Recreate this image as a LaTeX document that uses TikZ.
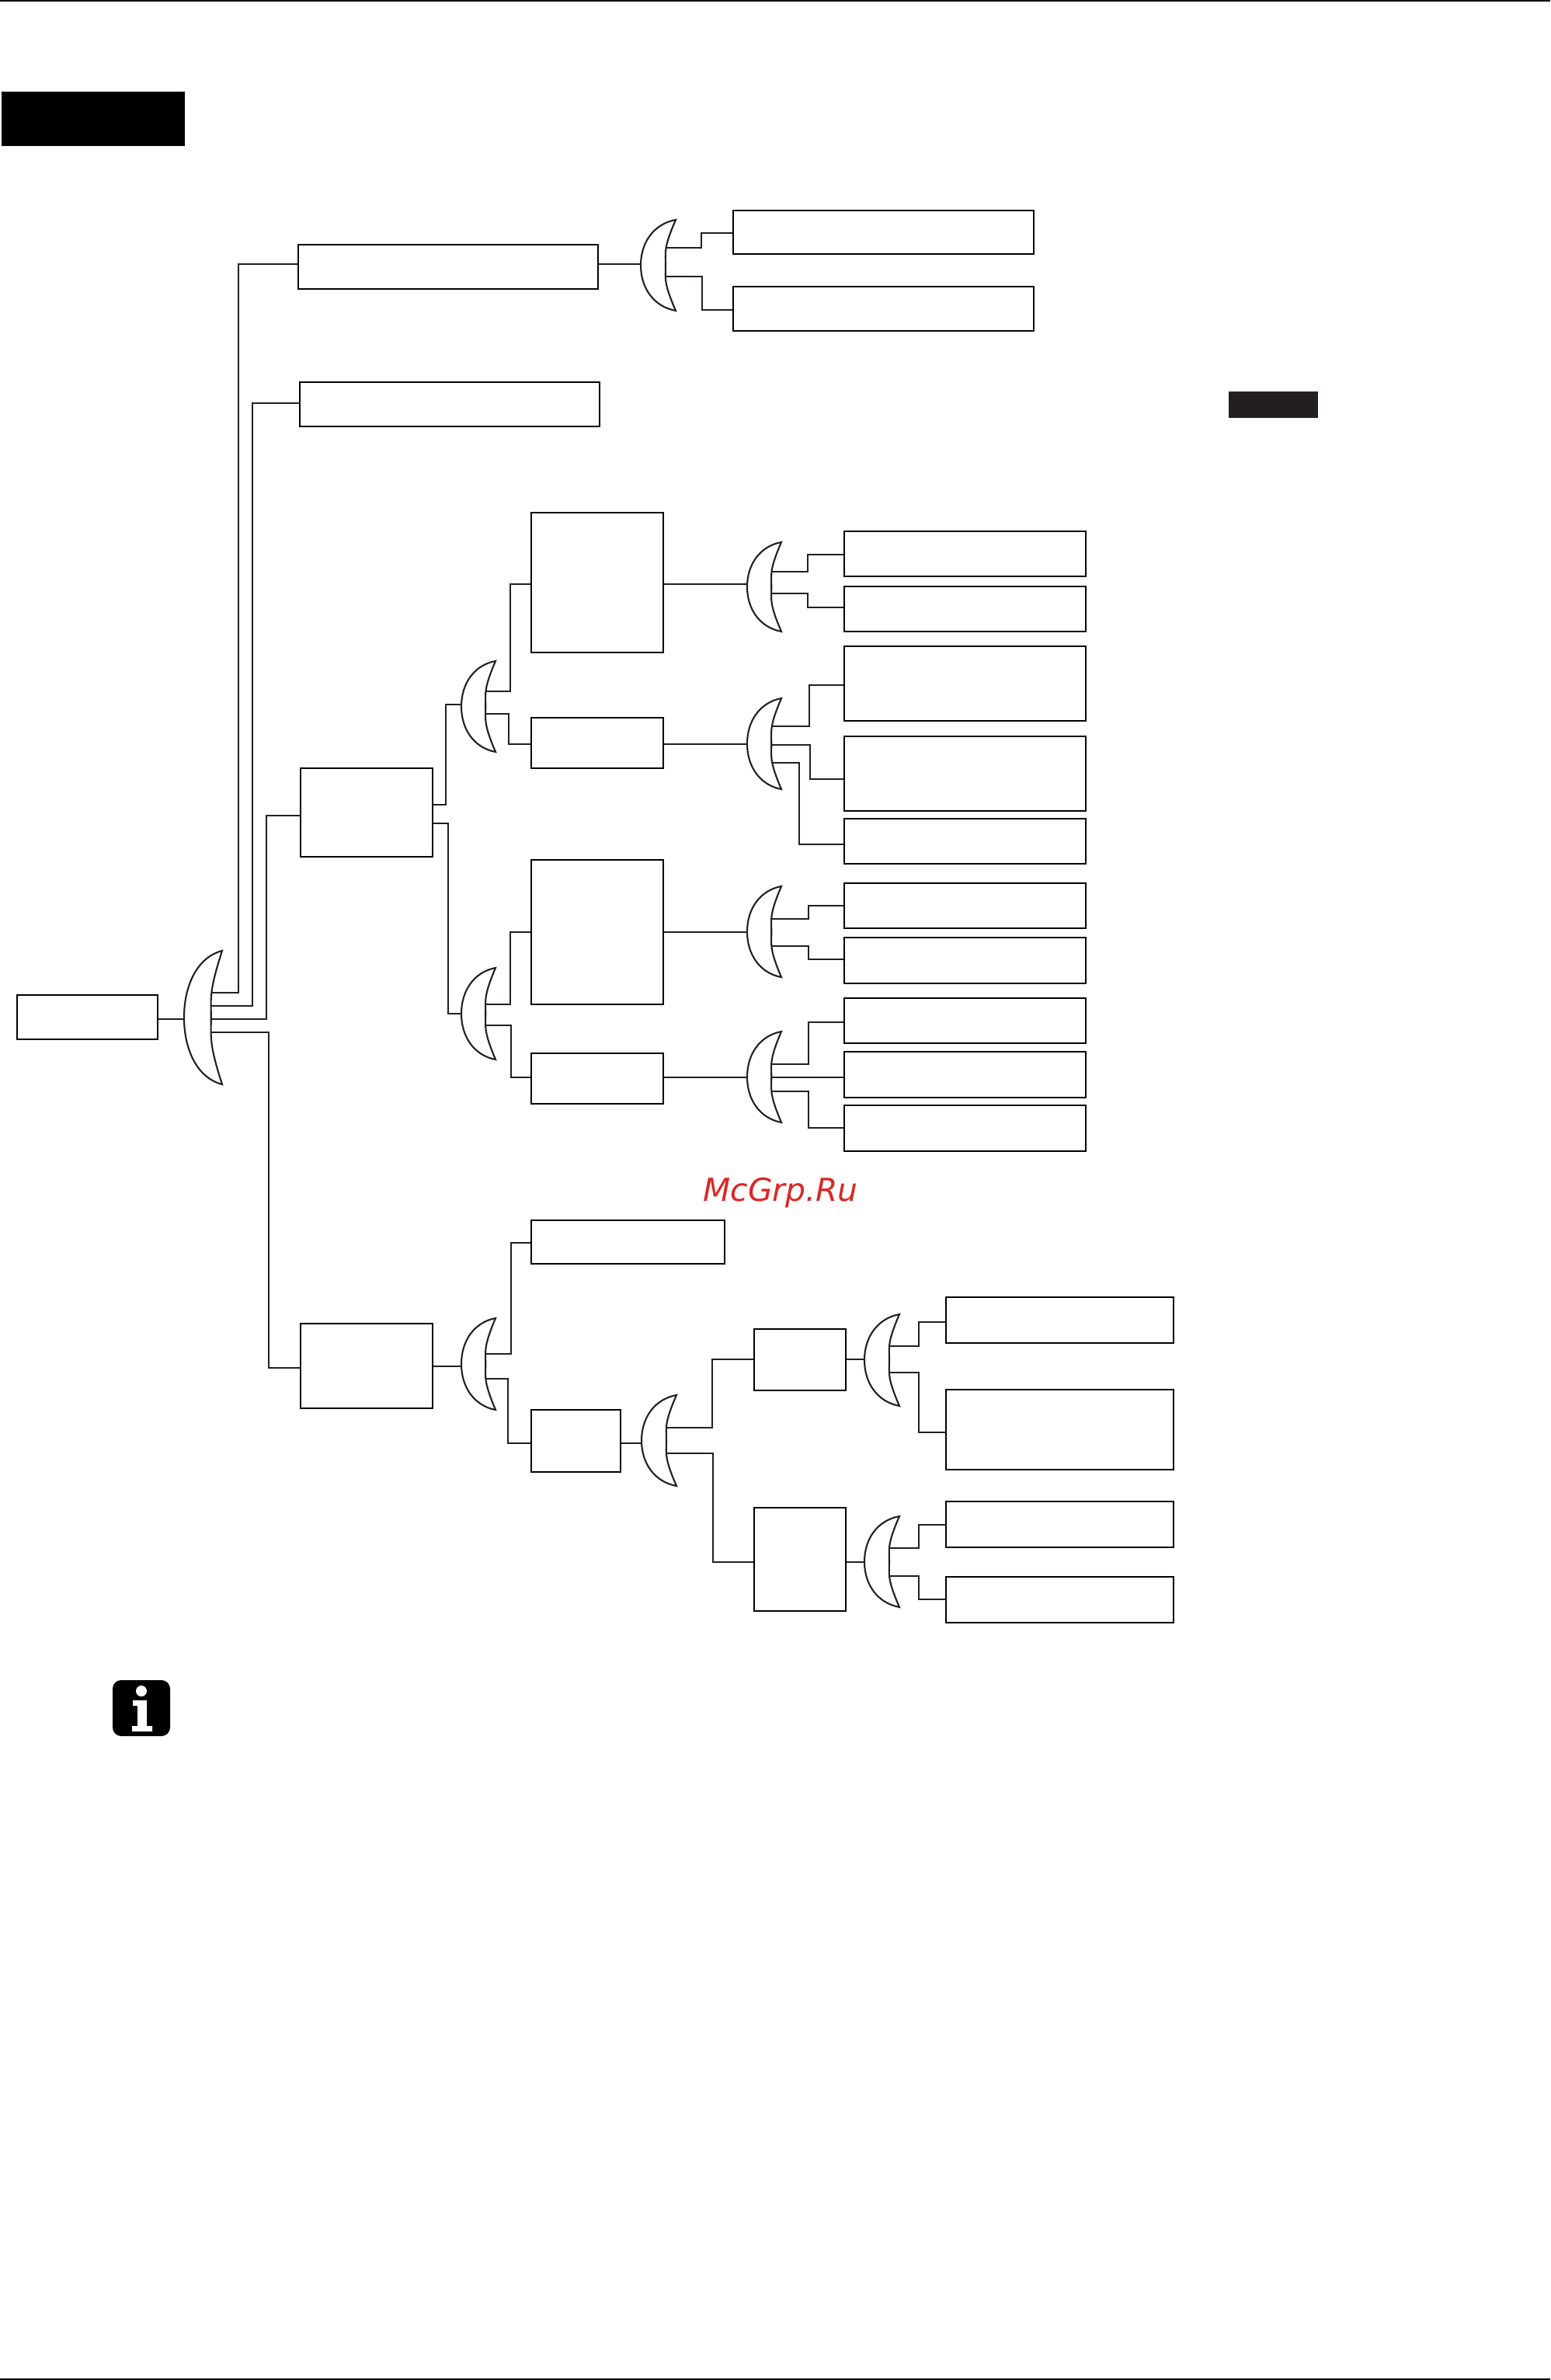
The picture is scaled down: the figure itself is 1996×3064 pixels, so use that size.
\documentclass[tikz,border=0pt]{standalone}
\usepackage{fontspec}
\setmainfont{DejaVu Sans}
\usetikzlibrary{backgrounds}
\definecolor{ink}{HTML}{231F20}
\definecolor{wm}{HTML}{DC2626}
\tikzset{
  wirestyle/.style={draw=ink,line width=0.65pt,line join=miter},
  boxstyle/.style={draw=black,line width=0.7pt,fill=white,inner sep=0pt,outer sep=0pt,rectangle},
  lensstyle/.style={draw=ink,line width=0.6pt,fill=white,line join=miter},
}
% \bx{name}{x1}{y1}{x2}{y2}
\newcommand{\bx}[5]{\node[boxstyle,minimum width={(#4-#2)*0.01cm},minimum height={(#5-#3)*0.01cm}] (#1) at ({(#2+#4)/2},{(#3+#5)/2}) {};}
% \lens{name}{left}{tip}{ytop}{ybot}
\newcommand{\lens}[5]{%
  \pgfmathsetmacro{\lw}{#3-#2}\pgfmathsetmacro{\lm}{(#4+#5)/2}\pgfmathsetmacro{\lh}{(#5-#4)/2}%
  \pgfmathsetmacro{\li}{#2+0.71*\lw}%
  \coordinate (#1) at (#2,\lm);\coordinate (#1-i) at (\li,\lm);%
  \draw[lensstyle] (#3,#4)
    .. controls ({#3-0.63*\lw},{#4+0.09*\lh}) and (#2,{\lm-0.5*\lh}) .. (#2,\lm)
    .. controls (#2,{\lm+0.5*\lh}) and ({#3-0.63*\lw},{#5-0.09*\lh}) .. (#3,#5)
    .. controls ({#3-0.5*\lw*0.7},{#5-0.62*\lh}) and (\li,{\lm+0.3*\lh}) .. (\li,\lm)
    .. controls (\li,{\lm-0.3*\lh}) and ({#3-0.5*\lw*0.7},{#4+0.62*\lh}) .. (#3,#4) -- cycle;}
% \inl{box}{lens}{y}
\newcommand{\inl}[3]{\begin{pgfonlayer}{background}\draw[wirestyle] (#1.east |- 0,#3) -- (#2 |- 0,#3);\end{pgfonlayer}}
% \wire{lens}{sy}{mx}{ey}{box}
\newcommand{\wire}[5]{\begin{pgfonlayer}{background}\draw[wirestyle] (#1-i |- 0,#2) -- (#3,#2) -- (#3,#4) -- (#5.west |- 0,#4);\end{pgfonlayer}}
\begin{document}
\begin{tikzpicture}[x=0.01cm,y=-0.01cm]
\useasboundingbox (0,0) rectangle (1996,3064);
% page rules and blocks
\fill[black] (0,0) rectangle (1996,2);
\fill[black] (0,3062) rectangle (1996,3064);
\fill[black] (2,118) rectangle (238,188);
\fill[ink] (1582,504) rectangle (1697,538);
% boxes
\bx{root}{22}{1281}{203}{1338}
\bx{A}{384}{315}{770}{372}
\bx{Aa}{944}{271}{1331}{327}
\bx{Ab}{944}{369}{1331}{426}
\bx{B}{386}{492}{772}{549}
\bx{C}{387}{989}{557}{1103}
\bx{D}{387}{1704}{557}{1813}
\bx{E}{684}{660}{854}{840}
\bx{F}{684}{924}{854}{989}
\bx{G}{684}{1107}{854}{1293}
\bx{H}{684}{1356}{854}{1421}
\bx{Ea}{1087}{684}{1398}{742}
\bx{Eb}{1087}{755}{1398}{813}
\bx{Fa}{1087}{832}{1398}{928}
\bx{Fb}{1087}{948}{1398}{1044}
\bx{Fc}{1087}{1054}{1398}{1112}
\bx{Ga}{1087}{1137}{1398}{1195}
\bx{Gb}{1087}{1207}{1398}{1266}
\bx{Ha}{1087}{1285}{1398}{1343}
\bx{Hb}{1087}{1354}{1398}{1413}
\bx{Hc}{1087}{1423}{1398}{1482}
\bx{Da}{684}{1571}{933}{1627}
\bx{Db}{684}{1815}{799}{1895}
\bx{K}{971}{1711}{1089}{1790}
\bx{L}{971}{1941}{1089}{2074}
\bx{Ka}{1218}{1670}{1511}{1729}
\bx{Kb}{1218}{1789}{1511}{1892}
\bx{La}{1218}{1933}{1511}{1992}
\bx{Lb}{1218}{2030}{1511}{2089}
% lenses
\lens{lr}{237}{286}{1224}{1396}
\lens{la}{825}{870}{283}{400}
\lens{lc}{594}{638}{851}{968}
\lens{ld}{594}{638}{1246}{1364}
\lens{le}{962}{1006}{698}{813}
\lens{lf}{962}{1006}{899}{1016}
\lens{lg}{962}{1006}{1141}{1258}
\lens{lh}{962}{1006}{1328}{1445}
\lens{li}{594}{638}{1697}{1815}
\lens{lj}{826}{871}{1796}{1913}
\lens{lk}{1113}{1158}{1692}{1810}
\lens{ll}{1113}{1158}{1952}{2069}
% connectors
\inl{root}{lr}{1312}
\wire{lr}{1278}{307}{340}{A}
\wire{lr}{1295}{325}{519}{B}
\wire{lr}{1312}{343}{1050}{C}
\wire{lr}{1329}{346}{1761}{D}
\inl{A}{la}{340}
\wire{la}{319}{903}{300}{Aa}
\wire{la}{356}{904}{399}{Ab}
\begin{pgfonlayer}{background}
\draw[wirestyle] (C.east |- 0,1036) -- (574,1036) -- (574,907) -- (lc |- 0,907);
\draw[wirestyle] (C.east |- 0,1060) -- (577,1060) -- (577,1305) -- (ld |- 0,1305);
\end{pgfonlayer}
\wire{lc}{890}{657}{752}{E}
\wire{lc}{919}{655}{958}{F}
\wire{ld}{1293}{657}{1200}{G}
\wire{ld}{1320}{658}{1387}{H}
\inl{E}{le}{752}
\wire{le}{736}{1040}{714}{Ea}
\wire{le}{764}{1040}{782}{Eb}
\inl{F}{lf}{958}
\wire{lf}{935}{1042}{882}{Fa}
\wire{lf}{959}{1043}{1003}{Fb}
\wire{lf}{982}{1029}{1087}{Fc}
\inl{G}{lg}{1200}
\wire{lg}{1183}{1041}{1166}{Ga}
\wire{lg}{1218}{1041}{1235}{Gb}
\inl{H}{lh}{1387}
\wire{lh}{1370}{1041}{1316}{Ha}
\wire{lh}{1387}{1041}{1387}{Hb}
\wire{lh}{1405}{1041}{1452}{Hc}
\inl{D}{li}{1759}
\wire{li}{1743}{658}{1600}{Da}
\wire{li}{1775}{654}{1858}{Db}
\inl{Db}{lj}{1858}
\wire{lj}{1838}{917}{1750}{K}
\wire{lj}{1871}{918}{2011}{L}
\inl{K}{lk}{1750}
\wire{lk}{1733}{1183}{1702}{Ka}
\wire{lk}{1767}{1183}{1844}{Kb}
\inl{L}{ll}{2011}
\wire{ll}{1993}{1183}{1963}{La}
\wire{ll}{2029}{1183}{2059}{Lb}
% watermark
\node[anchor=base west,inner sep=0pt,text=wm,font={\itshape\fontsize{11.6pt}{13pt}\selectfont}] (wmark) at (905,1546) {McGrp.Ru};
% info icon
\fill[black,rounded corners=0.11cm] (145,2163) rectangle (219,2235);
\fill[white] (182,2177) circle (7);
\fill[white] (171,2189) -- (189,2189) -- (189,2222) -- (196,2222) -- (196,2229) -- (170,2229) -- (170,2222) -- (177,2222) -- (177,2196) -- (171,2196) -- cycle;
\end{tikzpicture}
\end{document}
